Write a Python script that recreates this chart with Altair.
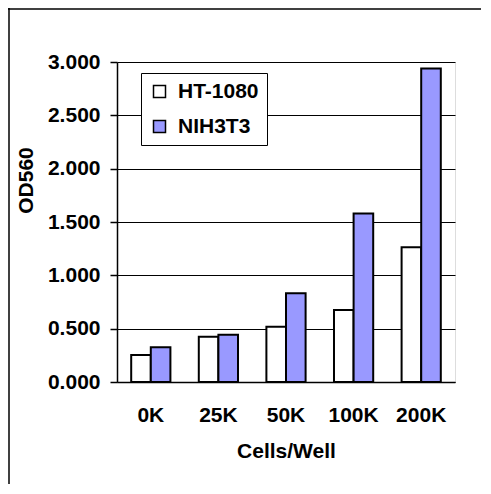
import altair as alt
import pandas as pd

categories = ["0K", "25K", "50K", "100K", "200K"]
series = ["HT-1080", "NIH3T3"]
ht1080 = [0.253, 0.425, 0.519, 0.675, 1.263]
nih3t3 = [0.325, 0.443, 0.831, 1.58, 2.94]
y_ticks = [0.0, 0.5, 1.0, 1.5, 2.0, 2.5, 3.0]

rows = []
for c, a, b in zip(categories, ht1080, nih3t3):
    rows.append({"cells": c, "series": series[0], "od": a})
    rows.append({"cells": c, "series": series[1], "od": b})
df = pd.DataFrame(rows)

FONT = "Liberation Sans"
FS = 21

bars = alt.Chart(df).mark_bar(stroke="black", strokeWidth=2).encode(
    x=alt.X("cells:N", sort=categories,
            scale=alt.Scale(paddingInner=0.42, paddingOuter=0.21),
            axis=alt.Axis(title="Cells/Well", labelAngle=0, tickSize=0,
                          labelPadding=22, titlePadding=15,
                          domainColor="black", domainWidth=1.5,
                          labelFont=FONT, labelFontSize=FS, labelFontWeight="bold",
                          labelColor="black", titleFont=FONT, titleFontSize=FS,
                          titleFontWeight="bold", titleColor="black")),
    xOffset=alt.XOffset("series:N", sort=series,
                        scale=alt.Scale(paddingInner=0, paddingOuter=0)),
    y=alt.Y("od:Q", scale=alt.Scale(domain=[0, 3], nice=False),
            axis=alt.Axis(title="OD560", values=y_ticks, format=".3f",
                          tickSize=7, tickColor="black", tickWidth=1.5,
                          labelPadding=10, grid=True, gridColor="black",
                          gridWidth=1, domainColor="black", domainWidth=1.5,
                          labelFont=FONT, labelFontSize=FS, labelFontWeight="bold",
                          labelColor="black", titleFont=FONT, titleFontSize=FS,
                          titleFontWeight="bold", titleColor="black",
                          titleX=-81, titleY=118)),
    color=alt.Color("series:N", sort=series,
                    scale=alt.Scale(domain=series, range=["#FFFFFF", "#9999FF"]),
                    legend=alt.Legend(title=None, orient="none", legendX=24, legendY=11,
                                      symbolType="square", symbolSize=144,
                                      symbolStrokeColor="black", symbolStrokeWidth=1.5,
                                      labelFont=FONT, labelFontSize=FS,
                                      labelFontWeight="bold", labelColor="black",
                                      labelOffset=8, rowPadding=13, padding=8,
                                      strokeColor="black", fillColor="white")),
)

one = alt.Data(values=[{"k": 1}])
frame_top = alt.Chart(one).mark_rule(color="black", strokeWidth=1.5).encode(
    x=alt.value(-109), x2=alt.value(400), y=alt.value(-53))
frame_left = alt.Chart(one).mark_rule(color="black", strokeWidth=1.5).encode(
    x=alt.value(-108), y=alt.value(-54), y2=alt.value(440))

chart = alt.layer(bars, frame_top, frame_left).properties(
    width=338, height=320,
    autosize=alt.AutoSizeParams(type="none"),
    padding={"left": 109, "top": 54, "right": 26, "bottom": 102},
).configure_view(
    fill="#C0C0C0", stroke="#808080", strokeWidth=2
).configure(background="white")

chart.save("out.html", embed_options={"renderer": "svg", "actions": False})
